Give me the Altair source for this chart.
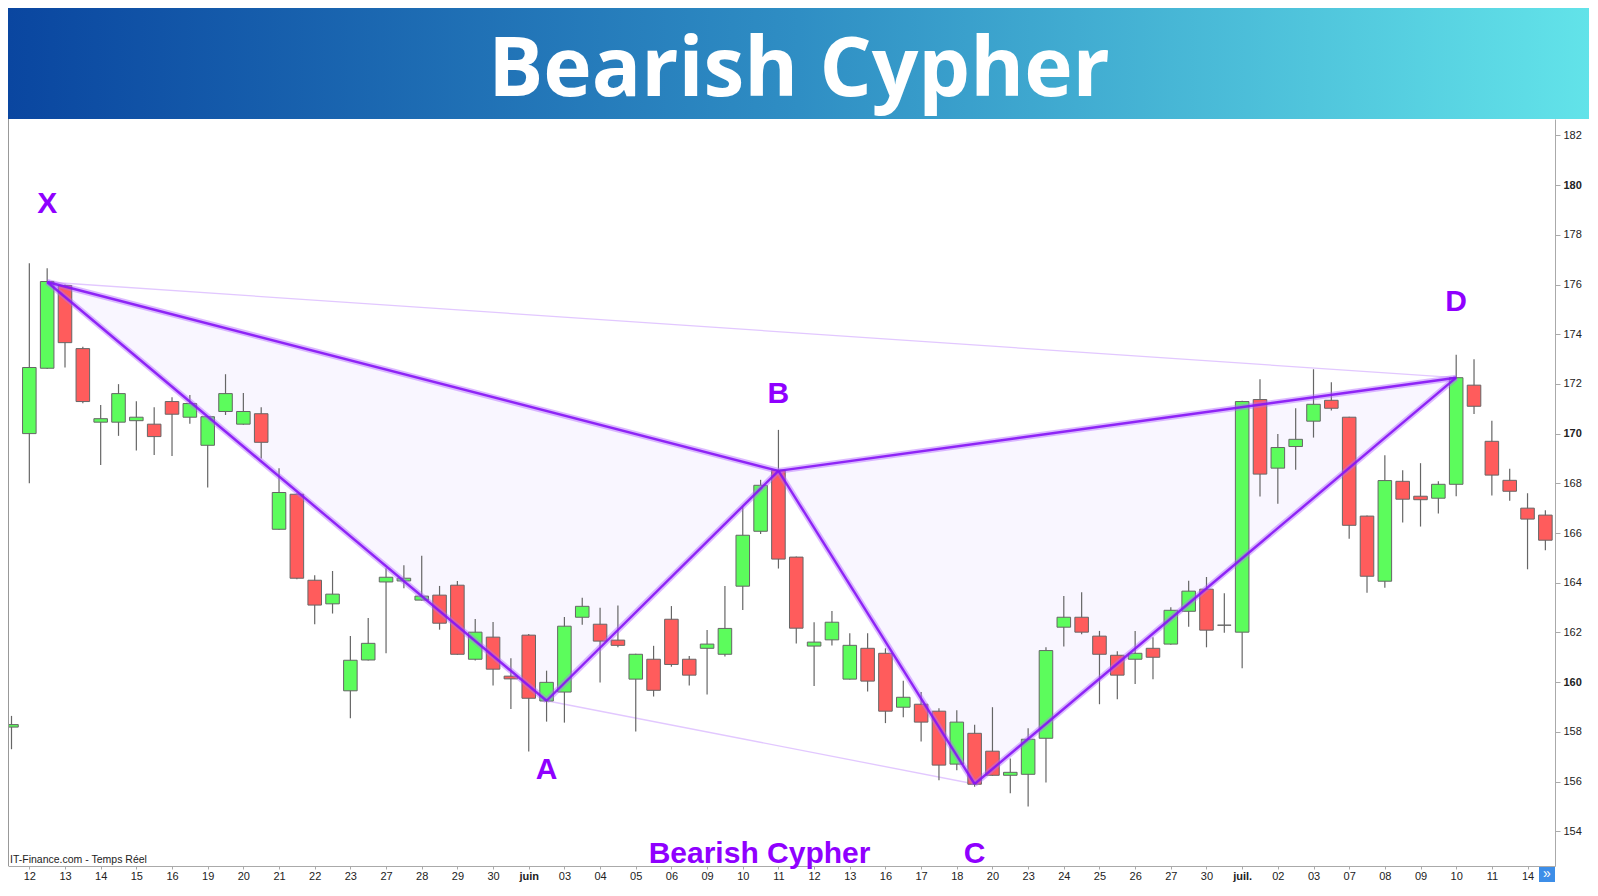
import altair as alt
import pandas as pd

# ---------------- data ----------------
opens = [158.19, 170.00, 172.63, 175.96, 173.42, 170.46, 170.46, 170.52, 170.38, 171.29,
         170.66, 169.53, 170.89, 170.38, 170.80, 166.15, 167.56, 164.10, 163.15, 159.65,
         160.89, 164.03, 164.07, 163.30, 163.50, 163.90, 160.92, 161.81, 160.24, 161.89,
         159.24, 159.60, 162.61, 162.33, 161.69, 160.12, 160.92, 162.53, 160.92, 161.36,
         161.12, 163.86, 166.07, 168.53, 165.03, 161.45, 161.70, 160.12, 161.36, 161.16,
         158.99, 159.11, 158.83, 156.70, 157.94, 157.22, 156.25, 156.29, 157.74, 162.21,
         162.61, 161.85, 161.08, 160.92, 161.36, 161.53, 162.85, 163.74, 162.29, 162.01,
         171.37, 168.61, 169.48, 170.50, 171.34, 170.66, 166.68, 164.06, 168.08, 167.48,
         167.40, 167.96, 171.95, 169.69, 168.12, 167.00, 166.72]
highs = [158.64, 176.86, 176.65, 176.00, 173.50, 171.15, 171.99, 171.30, 171.06, 171.46,
         171.55, 170.70, 172.39, 171.63, 171.06, 168.61, 167.60, 164.30, 164.47, 161.86,
         162.58, 164.58, 164.70, 165.08, 163.87, 164.07, 162.54, 162.42, 160.96, 161.94,
         160.46, 162.62, 163.39, 162.99, 163.08, 161.14, 161.46, 163.06, 161.05, 162.10,
         163.87, 167.06, 168.14, 170.15, 165.05, 162.41, 162.86, 161.97, 161.97, 161.36,
         160.05, 159.60, 158.95, 158.87, 158.28, 158.99, 156.93, 158.14, 161.40, 163.47,
         163.62, 162.06, 161.24, 162.06, 161.81, 163.01, 164.08, 164.23, 163.58, 171.32,
         172.19, 169.98, 171.02, 172.59, 172.07, 170.68, 166.70, 169.13, 168.53, 168.81,
         168.08, 173.17, 172.99, 170.52, 168.59, 167.60, 166.92]
lows = [157.30, 168.00, 172.60, 172.66, 171.22, 168.74, 169.91, 169.32, 169.14, 169.10,
        170.40, 167.83, 170.75, 170.36, 169.00, 166.13, 164.14, 162.33, 162.76, 158.55,
        160.87, 161.16, 163.78, 163.28, 162.11, 161.10, 160.87, 159.86, 158.92, 157.21,
        158.41, 158.37, 162.31, 159.98, 161.40, 158.01, 159.42, 160.62, 159.86, 159.50,
        161.03, 162.90, 165.96, 164.57, 161.55, 159.84, 161.47, 160.10, 159.62, 158.35,
        158.59, 157.61, 156.05, 156.45, 155.79, 156.23, 155.53, 154.99, 155.96, 161.43,
        161.93, 159.11, 159.31, 159.92, 160.12, 161.50, 162.23, 161.40, 161.99, 160.56,
        167.47, 167.18, 168.55, 169.84, 170.93, 165.77, 163.60, 163.80, 166.42, 166.26,
        166.78, 167.48, 170.79, 167.51, 167.30, 164.54, 165.31]
closes = [158.29, 172.66, 176.12, 173.66, 171.29, 170.60, 171.61, 170.66, 169.88, 170.78,
          171.21, 170.68, 171.61, 170.89, 169.65, 167.63, 164.18, 163.10, 163.54, 160.88,
          161.56, 164.22, 164.18, 163.46, 162.37, 161.12, 162.01, 160.52, 160.13, 159.35,
          159.99, 162.25, 163.05, 161.65, 161.48, 161.12, 159.67, 160.71, 160.28, 161.53,
          162.16, 165.91, 167.92, 164.95, 162.17, 161.61, 162.41, 161.48, 160.04, 158.83,
          159.39, 158.39, 156.66, 158.39, 155.89, 156.25, 156.37, 157.70, 161.27, 162.61,
          162.01, 161.12, 160.28, 161.16, 161.00, 162.89, 163.66, 162.09, 162.29, 171.29,
          168.37, 169.44, 169.77, 171.18, 171.02, 166.31, 164.26, 168.11, 167.36, 167.34,
          167.96, 172.25, 171.10, 168.33, 167.68, 166.56, 165.71]

date_labels = ["12", "13", "14", "15", "16", "19", "20", "21", "22", "23", "27", "28", "29", "30",
               "juin", "03", "04", "05", "06", "09", "10", "11", "12", "13", "16", "17", "18", "20",
               "23", "24", "25", "26", "27", "30", "juil.", "02", "03", "07", "08", "09", "10",
               "11", "14"]

pattern_names = ["X", "A", "B", "C", "D"]
pattern_idx = [2, 30, 43, 54, 81]
pattern_val = [176.10, 159.25, 168.50, 155.90, 172.25]

y_ticks = list(range(154, 183, 2))

# annotation texts
label_text = ["X", "A", "B", "C", "D", "Bearish Cypher"]
label_i = [2, 30, 43, 54, 81, 41.94]
label_v = [179.25, 156.45, 171.58, 153.09, 175.31, 153.09]

# ---------------- tables ----------------
n = len(opens)
df = pd.DataFrame({"i": list(range(n)), "open": opens, "high": highs,
                   "low": lows, "close": closes})
df["dir"] = ["up" if c >= o else "down" for o, c in zip(opens, closes)]

P = dict(zip(pattern_names, zip(pattern_idx, pattern_val)))


def interp(p, q, x):
    (x0, y0), (x1, y1) = p, q
    return y0 + (y1 - y0) * (x - x0) / (x1 - x0)


tri_rows = []
for tri, (a, m, b) in {"XAB": ("X", "A", "B"), "BCD": ("B", "C", "D")}.items():
    tri_rows.append({"tri": tri, "i": P[a][0], "top": P[a][1], "bot": P[a][1]})
    tri_rows.append({"tri": tri, "i": P[m][0], "top": interp(P[a], P[b], P[m][0]), "bot": P[m][1]})
    tri_rows.append({"tri": tri, "i": P[b][0], "top": P[b][1], "bot": P[b][1]})
tri_df = pd.DataFrame(tri_rows)

thick = [("X", "A"), ("A", "B"), ("X", "B"), ("B", "C"), ("C", "D"), ("B", "D")]
thin = [("X", "D"), ("A", "C")]


def seg_df(pairs):
    rows = []
    for k, (a, b) in enumerate(pairs):
        for name in (a, b):
            rows.append({"seg": k, "i": P[name][0], "v": P[name][1]})
    return pd.DataFrame(rows)


thick_df = seg_df(thick)
thin_df = seg_df(thin)
lab_df = pd.DataFrame({"t": label_text, "i": label_i, "v": label_v})
one = pd.DataFrame({"a": [0]})

# ---------------- scales / axes ----------------
W, H = 1547, 747
PAD_TOP, PAD_BOTTOM, PAD_RIGHT = 111, 16, 34
xscale = alt.Scale(domain=[-0.196, 86.54], nice=False, zero=False)
yscale = alt.Scale(domain=[152.60, 182.66], nice=False, zero=False)

label_array = "[" + ",".join("'" + s + "'" for s in date_labels) + "]"
bold_vals = [2 * k + 1 for k, s in enumerate(date_labels) if not s.isdigit()]
bold_expr = " || ".join(f"datum.value == {v}" for v in bold_vals)

x_axis = alt.Axis(
    values=[2 * k + 1 for k in range(len(date_labels))],
    labelExpr=f"{label_array}[(datum.value - 1) / 2]",
    labelFontWeight=alt.expr(f"({bold_expr}) ? 'bold' : 'normal'"),
    title=None, grid=False, domainColor="#aaaaaa", tickColor="#aaaaaa",
    tickSize=3, labelPadding=1, labelFont="Liberation Sans", labelFontSize=11,
    labelColor="#222222", labelFlush=False, labelOverlap=False,
)
y_axis = alt.Axis(
    orient="right", values=y_ticks, title=None, grid=False,
    domainColor="#aaaaaa", tickColor="#aaaaaa", tickSize=5, labelPadding=3,
    labelFont="Liberation Sans", labelFontSize=11, labelColor="#222222",
    labelFontWeight=alt.expr("datum.value % 10 === 0 ? 'bold' : 'normal'"),
)


def X(field):
    return alt.X(field, scale=xscale, axis=x_axis)


def Y(field):
    return alt.Y(field, scale=yscale, axis=y_axis)


base = alt.Chart(df)

wicks = base.mark_rule(color="#666666", strokeWidth=1.2).encode(
    x=X("i:Q"), y=Y("low:Q"), y2="high:Q",
)

bodies = base.transform_calculate(
    xl="datum.i - 0.38", xr="datum.i + 0.38"
).mark_rect(stroke="#666666", strokeWidth=1).encode(
    x=X("xl:Q"), x2="xr:Q", y=Y("open:Q"), y2="close:Q",
    color=alt.Color("dir:N", scale=alt.Scale(domain=["up", "down"],
                                             range=["#5cfc5c", "#ff5c5c"]), legend=None),
)

fill = alt.Chart(tri_df).mark_area(color="#f9f6ff", opacity=1, interpolate="linear").encode(
    x=X("i:Q"), y=Y("top:Q"), y2="bot:Q", detail="tri:N",
)

thin_lines = alt.Chart(thin_df).mark_line(color="#e2c8ff", strokeWidth=1.3).encode(
    x=X("i:Q"), y=Y("v:Q"), detail="seg:N",
)

glow = alt.Chart(thick_df).mark_line(color="#b266ff", strokeWidth=6, opacity=0.45).encode(
    x=X("i:Q"), y=Y("v:Q"), detail="seg:N",
)
core = alt.Chart(thick_df).mark_line(color="#8514f5", strokeWidth=2.4, opacity=0.9).encode(
    x=X("i:Q"), y=Y("v:Q"), detail="seg:N",
)

labels = alt.Chart(lab_df).mark_text(
    font="Liberation Sans", fontWeight="bold", fontSize=30, color="#8f00ff",
    align="center", baseline="middle",
).encode(x=X("i:Q"), y=Y("v:Q"), text="t:N")

header = alt.Chart(one).mark_rect(
    fill=alt.Gradient(
        gradient="linear",
        stops=[alt.GradientStop(color="#0a46a0", offset=0),
               alt.GradientStop(color="#2f8ec4", offset=0.5),
               alt.GradientStop(color="#62e3e9", offset=1)],
        x1=0, x2=1, y1=0, y2=0,
    )
).encode(x=alt.value(0), x2=alt.value(W + PAD_RIGHT), y=alt.value(-PAD_TOP), y2=alt.value(0))

title = alt.Chart(one).mark_text(
    text="Bearish Cypher", font="Open Sans", fontSize=82, fontWeight="bold",
    color="white", align="center", baseline="alphabetic",
).encode(x=alt.value(791), y=alt.value(-23))

left_border = alt.Chart(one).mark_rule(color="#999999", strokeWidth=1).encode(
    x=alt.value(0.5), y=alt.value(0), y2=alt.value(H)
)

source = alt.Chart(one).mark_text(
    text="IT-Finance.com - Temps Réel", font="Liberation Sans", fontSize=10.5,
    color="#222222", align="left", baseline="bottom",
).encode(x=alt.value(2), y=alt.value(H - 1))

btn = alt.Chart(one).mark_rect(color="#3d8ee8").encode(
    x=alt.value(W - 16), x2=alt.value(W), y=alt.value(H + 1), y2=alt.value(H + PAD_BOTTOM)
)
btn_txt = alt.Chart(one).mark_text(
    text="»", font="Liberation Sans", fontSize=14, color="white",
    align="center", baseline="middle",
).encode(x=alt.value(W - 8), y=alt.value(H + 8))

chart = alt.layer(
    fill, thin_lines, wicks, bodies, glow, core, labels,
    header, title, left_border, source, btn, btn_txt,
).properties(
    width=W, height=H,
    autosize=alt.AutoSizeParams(type="none"),
    padding={"left": 0, "top": PAD_TOP, "right": PAD_RIGHT, "bottom": PAD_BOTTOM},
).configure_view(stroke=None)

chart.save("out.html", embed_options={"renderer": "svg", "actions": False})
